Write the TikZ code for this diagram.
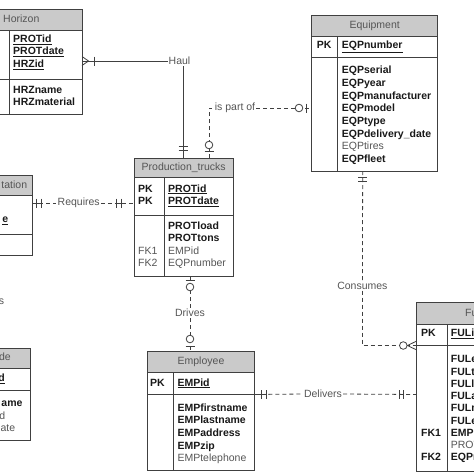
\documentclass[tikz,border=0pt]{standalone}
\usepackage{fontspec}
\setmainfont{Liberation Sans}
\definecolor{linec}{RGB}{64,64,64}
\definecolor{hdrgray}{RGB}{202,202,202}
\definecolor{keytxt}{RGB}{25,25,25}
\definecolor{softtxt}{RGB}{85,85,85}

\begin{document}
\begin{tikzpicture}[x=1pt,y=-1pt,
  tbl/.style={draw=linec,line width=0.9pt},
  hdr/.style={draw=linec,line width=0.9pt,fill=hdrgray},
  attr/.style={anchor=west,inner sep=0pt,text height=7.5pt,text depth=2pt,
    font=\fontsize{10.5}{12}\selectfont\bfseries,text=keytxt},
  soft/.style={attr,font=\fontsize{10.5}{12}\selectfont,text=softtxt},
  title/.style={inner sep=0pt,text height=7.5pt,text depth=2pt,
    font=\fontsize{10.5}{12}\selectfont,text=softtxt},
  rel/.style={draw=linec,line width=0.8pt,dash pattern=on 4pt off 3pt},
  solidrel/.style={draw=linec,line width=0.8pt},
  lbl/.style={inner sep=1pt,font=\fontsize{10.5}{12}\selectfont,text=softtxt},
  bar/.style={draw=linec,line width=0.8pt},
  ring/.style={draw=linec,line width=0.8pt,fill=white}]
  \useasboundingbox (0,0) rectangle (474,474);
  \clip (0,0) rectangle (474,474);

  % Horizon
  \draw[hdr] (-60,9) rectangle (82,30);
  \draw[tbl] (-60,30) rectangle (82,114);
  \draw[tbl] (-60,79) -- (82,79);
  \draw[tbl] (9,30) -- (9,114);
  \node[title,anchor=west] (hrz-t) at (3,19.5) {Horizon};
  \node[attr] (hrz-k1) at (13,40) {\underline{PROTid}};
  \node[attr] (hrz-k2) at (13,52) {\underline{PROTdate}};
  \node[attr] (hrz-k3) at (13,64.5) {\underline{HRZid}};
  \node[attr] (hrz-a1) at (13,91) {HRZname};
  \node[attr] (hrz-a2) at (13,103) {HRZmaterial};
  \coordinate (hrz e) at (82,61);

  % Equipment
  \draw[hdr] (311.7,15) rectangle (437.7,36);
  \draw[tbl] (311.7,36) rectangle (437.7,171);
  \draw[tbl] (311.7,57) -- (437.7,57);
  \draw[tbl] (337.7,36) -- (337.7,171);
  \node[title] (eqp-t) at (374.7,25.5) {Equipment};
  \node[attr] (eqp-pk) at (316.7,46) {PK};
  \node[attr] (eqp-k) at (341.7,46) {\underline{EQPnumber}};
  \foreach \t [count=\i] in {EQPserial,EQPyear,EQPmanufacturer,EQPmodel,EQPtype,EQPdelivery\_date}
    \node[attr] (eqp-\i) at (341.7,{71+12.7*(\i-1)}) {\t};
  \node[soft] (eqp-7) at (341.7,147.2) {EQPtires};
  \node[attr] (eqp-8) at (341.7,159.9) {EQPfleet};
  \coordinate (eqp w) at (311.7,108);
  \coordinate (eqp s) at (362.7,171);

  % Production_trucks
  \draw[hdr] (134,158) rectangle (233.3,177.3);
  \draw[tbl] (134,177.3) rectangle (233.3,276);
  \draw[tbl] (134,215) -- (233.3,215);
  \draw[tbl] (164,177.3) -- (164,276);
  \node[title] (pt-t) at (183.7,168) {Production\_trucks};
  \node[attr] (pt-pk1) at (138,189.3) {PK};
  \node[attr] (pt-pk2) at (138,201.7) {PK};
  \node[attr] (pt-k1) at (168,189.3) {\underline{PROTid}};
  \node[attr] (pt-k2) at (168,201.7) {\underline{PROTdate}};
  \node[attr] (pt-1) at (168,226.7) {PROTload};
  \node[attr] (pt-2) at (168,239.2) {PROTtons};
  \node[soft] (pt-fk1) at (138,251.7) {FK1};
  \node[soft] (pt-3) at (168,251.7) {EMPid};
  \node[soft] (pt-fk2) at (138,264.2) {FK2};
  \node[soft] (pt-4) at (168,264.2) {EQPnumber};
  \coordinate (pt haul) at (183,158);
  \coordinate (pt part) at (209,158);
  \coordinate (pt w) at (134,203);
  \coordinate (pt s) at (190,276);

  % left tables, cut at the border
  \draw[hdr] (-80,175.7) rectangle (32.3,195.7);
  \draw[tbl] (-80,195.7) rectangle (32.3,255);
  \draw[tbl] (-80,234) -- (32.3,234);
  \node[title,anchor=east] (trn-t) at (27.3,185.5) {tation};
  \node[attr,anchor=east] (trn-k) at (8.3,220) {\underline{e}};
  \coordinate (trn e) at (32.3,203);

  \node[lbl,anchor=east,inner sep=0pt] (cut-lbl) at (4.3,301.7) {s};

  \draw[hdr] (-80,348.3) rectangle (30.7,368.3);
  \draw[tbl] (-80,368.3) rectangle (30.7,440);
  \draw[tbl] (-80,390) -- (30.7,390);
  \node[title,anchor=east] (grd-t) at (11,358) {de};
  \node[attr,anchor=east] (grd-k) at (5,379) {\underline{d}};
  \node[attr,anchor=east] (grd-1) at (22.7,404) {ame};
  \node[soft,anchor=east] (grd-2) at (5.5,416.7) {d};
  \node[soft,anchor=east] (grd-3) at (15.3,429) {ate};

  % Employee
  \draw[hdr] (147.3,351.7) rectangle (254.3,372.7);
  \draw[tbl] (147.3,372.7) rectangle (254.3,470);
  \draw[tbl] (147.3,394.5) -- (254.3,394.5);
  \draw[tbl] (173.3,372.7) -- (173.3,470);
  \node[title] (emp-t) at (201,362) {Employee};
  \node[attr] (emp-pk) at (150,383.3) {PK};
  \node[attr] (emp-k) at (177.3,383.3) {\underline{EMPid}};
  \foreach \t [count=\i] in {EMPfirstname,EMPlastname,EMPaddress,EMPzip}
    \node[attr] (emp-\i) at (177.3,{408.3+12.65*(\i-1)}) {\t};
  \node[soft] (emp-5) at (177.3,458.9) {EMPtelephone};
  \coordinate (emp n) at (190,351.7);
  \coordinate (emp e) at (254.3,394.5);

  % Fuel, cut at the border
  \draw[hdr] (416.7,302.7) rectangle (520,324);
  \draw[tbl] (416.7,324) rectangle (520,471.7);
  \draw[tbl] (416.7,345.5) -- (520,345.5);
  \draw[tbl] (447.7,324) -- (447.7,471.7);
  \node[title,anchor=west] (ful-t) at (465,313.3) {Fuel};
  \node[attr] (ful-pk) at (421,334) {PK};
  \node[attr] (ful-k) at (450.7,334) {\underline{FULid}};
  \foreach \t [count=\i] in {FULentry,FULtime,FULliters,FULamount,FULmeter,FULend,EMPid}
    \node[attr] (ful-\i) at (450.7,{360+12.25*(\i-1)}) {\t};
  \node[soft] (ful-8) at (450.7,445.8) {PROTid};
  \node[attr] (ful-9) at (450.7,458) {EQPnumber};
  \node[attr] (ful-fk1) at (421,433.5) {FK1};
  \node[attr] (ful-fk2) at (421,458) {FK2};
  \coordinate (ful cw) at (416.7,345.5);
  \coordinate (ful w) at (416.7,394.5);

  % Haul
  \node[lbl] (haul) at (179.5,61) {Haul};
  \draw[solidrel] (hrz e) -- (haul.west);
  \draw[solidrel] (haul.south -| pt haul) -- (pt haul);
  \draw[bar] (82,56.5) -- (88.5,61) -- (82,65.5);
  \draw[bar] (94.3,56.5) -- (94.3,65.5);
  \draw[bar] (178.5,146.7) -- (187.5,146.7);
  \draw[bar] (178.5,150.7) -- (187.5,150.7);

  % is part of
  \node[lbl] (partof) at (235,108) {is part of};
  \draw[rel] (partof.east) -- (eqp w);
  \draw[rel] (pt part) |- (partof.west);
  \draw[ring] (299,108) circle[radius=3.8pt];
  \draw[bar] (306.7,103.5) -- (306.7,112.5);
  \draw[ring] (209,145) circle[radius=3.8pt];
  \draw[bar] (204.5,151.7) -- (213.5,151.7);

  % Requires
  \node[lbl] (requires) at (78.7,203) {Requires};
  \draw[rel] (trn e) -- (requires.west);
  \draw[rel] (requires.east) -- (pt w);
  \draw[bar] (trn e) -- (41,203);
  \draw[bar] (36.5,198.5) -- (36.5,207.5);
  \draw[bar] (41,198.5) -- (41,207.5);
  \draw[bar] (116,203) -- (121,203);
  \draw[bar] (116,198.5) -- (116,207.5);
  \draw[bar] (121,198.5) -- (121,207.5);

  % Drives
  \node[lbl] (drives) at (190,313) {Drives};
  \draw[rel] (pt s) -- (drives.north);
  \draw[rel] (drives.south) -- (emp n);
  \draw[bar] (185.5,280) -- (194.5,280);
  \draw[ring] (190,287) circle[radius=3.8pt];
  \draw[ring] (190,339) circle[radius=3.8pt];
  \draw[bar] (185.5,346.5) -- (194.5,346.5);

  % Delivers
  \node[lbl] (delivers) at (323,394) {Delivers};
  \draw[rel] (emp e) -- (delivers.west);
  \draw[rel] (delivers.east) -- (ful w);
  \draw[bar] (emp e) -- (266.2,394.5);
  \draw[bar] (261.7,390) -- (261.7,399);
  \draw[bar] (266.2,390) -- (266.2,399);
  \draw[bar] (399,394.5) -- (403.5,394.5);
  \draw[bar] (399,390) -- (399,399);
  \draw[bar] (403.5,390) -- (403.5,399);

  % Consumes
  \node[lbl] (consumes) at (362.4,285.7) {Consumes};
  \draw[rel] (eqp s) -- (consumes.north);
  \draw[rel] (consumes.south) |- (ful cw);
  \draw[bar] (358.2,177.5) -- (367.2,177.5);
  \draw[bar] (358.2,181.5) -- (367.2,181.5);
  \draw[ring] (403.3,345.5) circle[radius=3.8pt];
  \draw[bar] (407.5,345.5) -- (416.7,341);
  \draw[bar] (407.5,345.5) -- (416.7,350);
\end{tikzpicture}
\end{document}
